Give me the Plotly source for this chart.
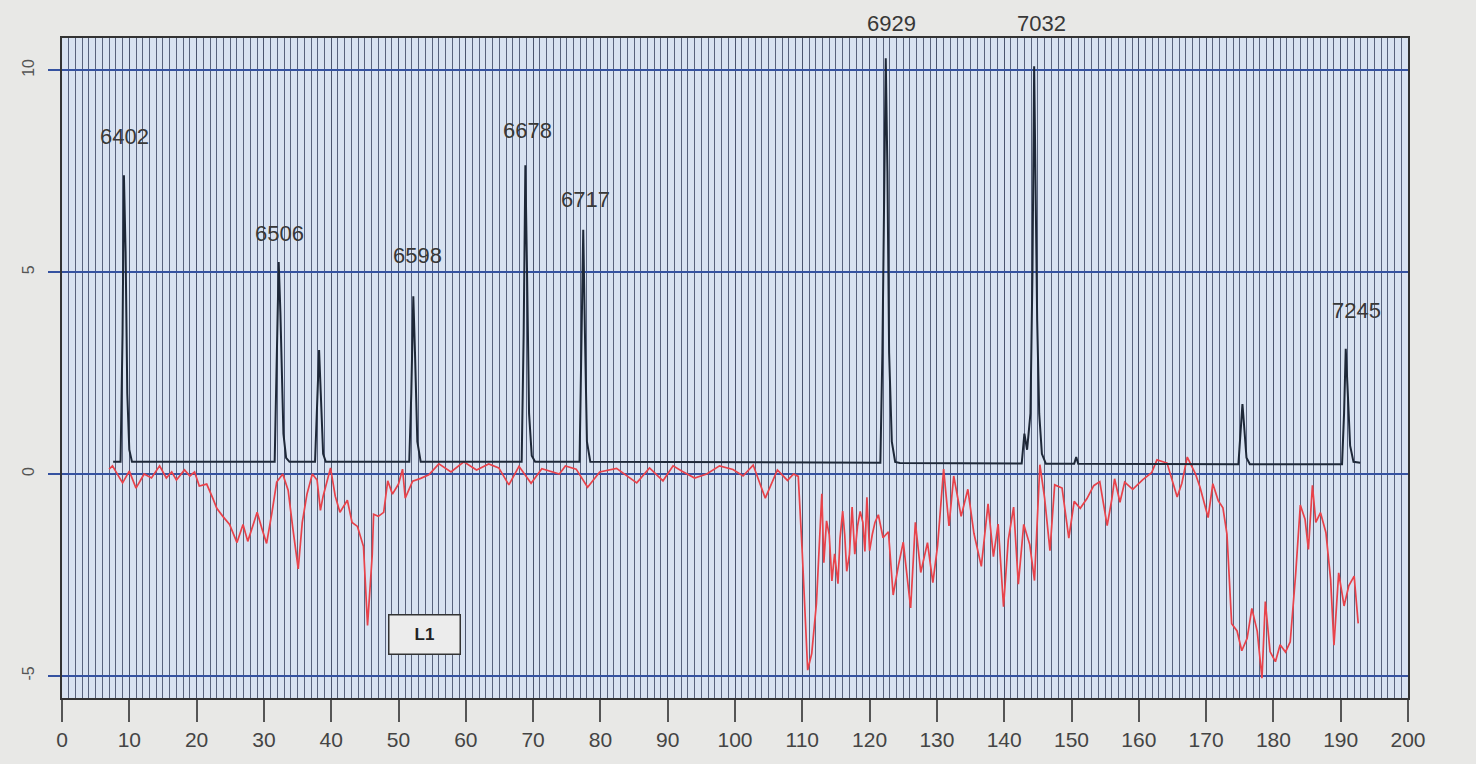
import plotly.graph_objects as go

# ---- black trace (peaks) ----
black_x = [7.6, 8.7, 9.0, 9.2, 9.45, 9.7, 10.0, 10.4,
           31.6, 31.9, 32.2, 32.45, 32.6, 32.9, 33.3, 33.8,
           37.6, 37.9, 38.2, 38.45, 38.8, 39.2,
           51.6, 51.9, 52.2, 52.45, 52.8, 53.3,
           68.3, 68.6, 68.85, 69.1, 69.4, 69.8, 70.3,
           76.9, 77.2, 77.45, 77.7, 78.0, 78.5,
           121.6, 121.9, 122.2, 122.4, 122.65, 122.9, 123.3, 123.8, 124.5,
           142.6, 143.0, 143.4, 143.9, 144.2, 144.45, 144.7, 144.9, 145.2, 145.6, 146.2,
           150.4, 150.7, 151.0,
           174.8, 175.2, 175.4, 175.6, 176.0, 176.5,
           190.2, 190.5, 190.75, 191.0, 191.4, 191.9, 192.9]
black_y = [0.3, 0.3, 3.5, 7.4, 5.5, 2.0, 0.6, 0.3,
           0.3, 2.5, 5.25, 4.0, 2.7, 1.0, 0.4, 0.3,
           0.3, 1.5, 3.07, 2.0, 0.5, 0.3,
           0.3, 2.0, 4.4, 3.0, 0.8, 0.3,
           0.3, 3.5, 7.65, 5.0, 1.5, 0.45, 0.3,
           0.3, 3.0, 6.05, 3.5, 0.8, 0.3,
           0.28, 3.0, 7.0, 10.3, 7.5, 3.0, 0.8, 0.3, 0.27,
           0.26, 1.0, 0.6, 1.5, 5.0, 10.1, 6.5, 3.8, 1.5, 0.5, 0.25,
           0.25, 0.42, 0.25,
           0.24, 1.2, 1.73, 1.3, 0.4, 0.24,
           0.24, 1.5, 3.1, 2.2, 0.7, 0.3, 0.28]

# ---- red trace ----
red_x = [7.0, 7.5, 9.0, 10.0, 11.0, 12.2, 13.3, 14.5, 15.5, 16.3, 17.0, 18.2, 19.0, 19.7,
         20.4, 21.5, 22.4, 23.0, 23.9, 24.9, 26.0, 26.9, 27.6, 29.0, 29.7, 30.4, 31.2,
         31.9, 32.8, 33.6, 34.3, 35.1, 35.7, 36.4, 37.2, 37.9, 38.4, 38.8, 39.9, 40.6,
         41.3, 42.4, 43.1, 43.9, 44.8, 45.4, 46.1, 46.3, 47.0, 47.8, 48.4, 49.1, 50.0,
         50.6, 51.0, 52.1, 53.3, 54.5,
         56.0, 57.8, 59.7, 61.6, 63.4, 64.9, 66.4, 67.9, 69.7, 71.3, 73.9, 74.8, 76.4,
         78.1, 79.9, 82.4, 85.4, 87.3, 89.3, 90.8, 92.2, 94.0, 95.8, 97.7, 99.7, 101.2,
         102.7, 104.5, 106.3, 107.8, 108.7, 109.4,
         110.0, 110.8, 111.4, 112.1, 112.9, 113.2, 113.6, 114.0, 114.4, 114.8, 115.3,
         115.6, 116.0, 116.3, 116.6, 117.0, 117.4, 117.8, 118.2, 118.6, 119.0, 119.3,
         119.6, 120.0, 120.4, 120.8, 121.3, 122.0, 122.8, 123.5, 124.3, 125.0, 126.1,
         126.8, 127.6, 128.6, 129.4, 130.1, 131.0, 131.8, 132.5, 133.6, 134.6, 135.5,
         136.6, 137.6, 138.4, 139.1, 139.9, 140.6, 141.4, 142.1, 142.9, 143.8, 144.5,
         145.3, 146.0, 146.8, 147.5, 148.6, 149.6, 150.4, 151.3, 152.3, 153.3, 154.2,
         155.3, 156.0,
         156.4, 157.2, 157.9, 159.1, 160.6, 161.9, 162.7, 164.2, 165.7, 166.4, 167.2,
         168.4, 169.1, 170.3, 171.0, 171.8, 172.5, 173.1, 173.8, 174.6, 175.3, 176.1,
         176.8, 177.6, 178.3, 178.8, 179.5, 180.3, 181.0, 181.8, 182.5, 183.3, 184.0,
         184.7, 185.2, 185.8, 186.3, 187.0, 187.8, 188.5, 189.0, 189.7, 190.5, 191.2,
         192.0, 192.6]
red_y = [0.12, 0.2, -0.22, 0.07, -0.35, 0.0, -0.1, 0.2, -0.1, 0.05, -0.15, 0.1, -0.05, 0.05,
         -0.3, -0.25, -0.6, -0.85, -1.05, -1.25, -1.7, -1.25, -1.67, -0.95, -1.35, -1.72, -0.95,
         -0.2, 0.0, -0.4, -1.35, -2.35, -1.2, -0.5, 0.0, -0.15, -0.9, -0.55, 0.15, -0.55,
         -0.95, -0.65, -1.2, -1.3, -1.8, -3.75, -2.0, -1.0, -1.05, -0.95, -0.17, -0.5, -0.25,
         0.12, -0.6, -0.18, -0.11, -0.02,
         0.25, 0.05, 0.3, 0.1, 0.25, 0.15, -0.27, 0.19, -0.23, 0.13, 0.0, 0.2, 0.12,
         -0.33, 0.05, 0.14, -0.22, 0.15, -0.17, 0.2, 0.06, -0.1, 0.0, 0.2, 0.11, -0.05,
         0.22, -0.6, 0.1, -0.16, 0.0, -0.06,
         -1.97, -4.86, -4.45, -3.21, -0.49, -2.2, -1.16, -1.5, -2.65, -1.98, -2.72,
         -1.6, -0.92, -1.5, -2.41, -2.0, -0.82, -1.99, -1.3, -0.93, -1.2, -1.92,
         -0.58, -1.9, -1.5, -1.2, -1.01, -1.58, -1.43, -3.0, -2.25, -1.69, -3.32,
         -1.2, -2.44, -1.7, -2.69, -1.78, 0.12, -1.29, -0.05, -1.05, -0.38, -1.47,
         -2.29, -0.74, -2.05, -1.24, -3.29, -1.64, -0.82, -2.73, -1.25, -1.75, -2.64,
         0.23, -0.59, -1.9, -0.27, -0.35, -1.59, -0.68, -0.85, -0.61, -0.29, -0.19,
         -1.28, -0.62,
         -0.12, -0.7, -0.2, -0.38, -0.14, 0.03, 0.35, 0.27, -0.57, -0.23, 0.42,
         0.01, -0.33, -1.08, -0.24, -0.66, -0.84, -1.49, -3.71, -3.89, -4.38, -4.07,
         -3.33, -3.9, -5.06, -3.16, -4.4, -4.65, -4.23, -4.41, -4.16, -2.5, -0.77,
         -1.12, -1.87, -0.28, -1.2, -0.96, -1.45, -2.61, -4.24, -2.45, -3.27, -2.77,
         -2.53, -3.7]

# ---- peak labels (inside the plot) ----
label_text = ["6402", "6506", "6598", "6678", "6717", "7245"]
label_x = [9.3, 32.3, 52.8, 69.1, 77.8, 192.3]
label_y = [8.35, 5.95, 5.4, 8.5, 6.8, 4.05]
# ---- peak labels above the frame ----
top_label_text = ["6929", "7032"]
top_label_x = [123.3, 145.5]

x_ticks = list(range(0, 201, 10))
y_ticks = [-5, 0, 5, 10]

FONT = "Liberation Sans, Arial, sans-serif"

fig = go.Figure()
fig.add_trace(go.Scatter(x=red_x, y=red_y, mode="lines",
                         line=dict(color="#e8424a", width=1.7), hoverinfo="skip"))
fig.add_trace(go.Scatter(x=black_x, y=black_y, mode="lines",
                         line=dict(color="#1e2838", width=2), hoverinfo="skip"))

for t, x, y in zip(label_text, label_x, label_y):
    fig.add_annotation(x=x, y=y, text=t, showarrow=False,
                       font=dict(family=FONT, size=22, color="#383838"),
                       yanchor="middle", xanchor="center")
for t, x in zip(top_label_text, top_label_x):
    fig.add_annotation(x=x, xref="x", y=1.022, yref="paper", text=t, showarrow=False,
                       font=dict(family=FONT, size=22, color="#383838"),
                       yanchor="middle", xanchor="center")

fig.add_annotation(x=53.9, y=-3.97, text="<b>L1</b>", showarrow=False,
                   font=dict(family=FONT, size=17, color="#222222"),
                   bgcolor="#ececec", bordercolor="#333333", borderwidth=1.5,
                   width=68, height=36)

fig.update_layout(
    width=1476, height=764,
    margin=dict(l=62, r=68, t=38, b=66),
    paper_bgcolor="#e8e8e6",
    plot_bgcolor="#d8e2f1",
    showlegend=False,
)
fig.update_xaxes(
    range=[0, 200], tickvals=x_ticks, ticktext=[str(v) for v in x_ticks],
    showgrid=True, gridcolor="#4a546e", gridwidth=1,
    minor=dict(dtick=1, tick0=0, showgrid=True, gridcolor="#58627c", gridwidth=1, ticks=""),
    ticks="outside", ticklen=22, tickwidth=1.5, tickcolor="#555555",
    tickfont=dict(family=FONT, size=21, color="#444444"),
    showline=True, linecolor="#333333", linewidth=1.5, mirror=True,
    zeroline=False,
)
fig.update_yaxes(
    range=[-5.55, 10.8], tickvals=y_ticks, ticktext=[str(v) for v in y_ticks],
    showgrid=True, gridcolor="#3552a0", gridwidth=1.5,
    ticks="outside", ticklen=12, tickwidth=1.5, tickcolor="#3552a0",
    tickangle=-90, ticklabelstandoff=8,
    tickfont=dict(family=FONT, size=16, color="#555555"),
    showline=True, linecolor="#333333", linewidth=1.5, mirror=True,
    zeroline=False,
)
for tr in fig.data:
    tr.cliponaxis = False

fig.write_html(
    "out.html",
    config={"displayModeBar": False},
    post_script="document.body.style.margin='0';document.body.style.background='#e8e8e6';"
                "document.documentElement.style.overflow='hidden';",
)
